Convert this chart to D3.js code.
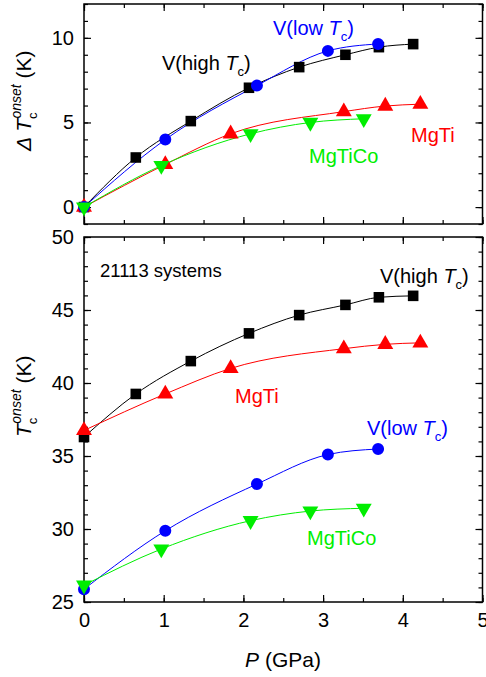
<!DOCTYPE html>
<html>
<head>
<meta charset="utf-8">
<script src="https://cdn.jsdelivr.net/npm/d3@7"></script>
<style>
  body { margin: 0; background: #fff; }
  svg { font-family: "Liberation Sans", Arial, sans-serif; }
  .tick line { stroke: #000; stroke-width: 1.2; }
  .tick text { font-size: 20px; fill: #000; }
</style>
</head>
<body>
<script>
// pressure points (GPa) and values
const pHigh = [0, 0.65, 1.34, 2.07, 2.70, 3.28, 3.70, 4.13];
const tcHigh = [36.3, 39.25, 41.5, 43.4, 44.65, 45.35, 45.87, 45.97];
const dHigh = [0, 2.93, 5.08, 7.05, 8.27, 9.0, 9.45, 9.63];

const pLow = [0, 1.02, 2.17, 3.06, 3.69];
const tcLow = [25.88, 29.88, 33.08, 35.1, 35.48];
const dLow = [0, 3.99, 7.18, 9.23, 9.64];

const pMgTi = [0, 1.02, 1.84, 3.26, 3.78, 4.22];
const tcMgTi = [36.75, 39.25, 41.0, 42.35, 42.65, 42.75];
const dMgTi = [0, 2.52, 4.33, 5.64, 5.97, 6.08];

const pMgTiCo = [0, 0.97, 2.09, 2.84, 3.51];
const tcMgTiCo = [26.15, 28.63, 30.57, 31.23, 31.42];
const dMgTiCo = [0, 2.45, 4.33, 5.0, 5.22];

const width = 486, height = 677;
const svg = d3.select("body").append("svg")
  .attr("width", width)
  .attr("height", height);

const x = d3.scaleLinear().domain([0, 5]).range([84, 482.5]);
const yTop = d3.scaleLinear().domain([-1, 12]).range([224, 4]);
const yBot = d3.scaleLinear().domain([25, 50]).range([602, 237]);

const series = [
  {p: pHigh, top: dHigh, bot: tcHigh, color: "#000000", sym: "square"},
  {p: pMgTi, top: dMgTi, bot: tcMgTi, color: "#ff0000", sym: "up"},
  {p: pLow, top: dLow, bot: tcLow, color: "#0000ff", sym: "circle"},
  {p: pMgTiCo, top: dMgTiCo, bot: tcMgTiCo, color: "#00ee00", sym: "down"}
];

function drawPanel(y, key, showX, yMajor) {
  const g = svg.append("g");
  const [y0, y1] = y.domain();
  const minorY = d3.range(Math.ceil(y0), y1 + 0.01, 1);
  const minorX = d3.range(0, 5.01, 0.5);

  // minor ticks on all four sides
  g.append("g").attr("transform", `translate(${x.range()[0]},0)`)
    .call(d3.axisLeft(y).tickValues(minorY).tickSize(-4).tickFormat(""));
  g.append("g").attr("transform", `translate(${x.range()[1]},0)`)
    .call(d3.axisRight(y).tickValues(minorY).tickSize(-4).tickFormat(""));
  g.append("g").attr("transform", `translate(0,${y.range()[0]})`)
    .call(d3.axisBottom(x).tickValues(minorX).tickSize(-4).tickFormat(""));
  g.append("g").attr("transform", `translate(0,${y.range()[1]})`)
    .call(d3.axisTop(x).tickValues(minorX).tickSize(-4).tickFormat(""));

  // major ticks
  g.append("g").attr("transform", `translate(${x.range()[0]},0)`)
    .call(d3.axisLeft(y).tickValues(yMajor).tickSize(-7).tickPadding(10).tickFormat(d3.format("d")));
  g.append("g").attr("transform", `translate(${x.range()[1]},0)`)
    .call(d3.axisRight(y).tickValues(yMajor).tickSize(-7).tickFormat(""));
  g.append("g").attr("transform", `translate(0,${y.range()[0]})`)
    .call(d3.axisBottom(x).ticks(5).tickSize(-7).tickPadding(11)
      .tickFormat(showX ? d3.format("d") : ""));
  g.append("g").attr("transform", `translate(0,${y.range()[1]})`)
    .call(d3.axisTop(x).ticks(5).tickSize(-7).tickFormat(""));

  g.selectAll(".domain").remove();

  g.append("rect")
    .attr("x", x.range()[0]).attr("y", y.range()[1])
    .attr("width", x.range()[1] - x.range()[0])
    .attr("height", y.range()[0] - y.range()[1])
    .attr("fill", "none").attr("stroke", "#000").attr("stroke-width", 1.5);

  const line = d3.line()
    .x(d => x(d[0])).y(d => y(d[1]))
    .curve(d3.curveMonotoneX);

  series.forEach(s => {
    const pts = s.p.map((p, i) => [p, s[key][i]]);
    g.append("path").datum(pts)
      .attr("d", line)
      .attr("fill", "none")
      .attr("stroke", s.color)
      .attr("stroke-width", 1);
  });

  series.forEach(s => {
    const pts = s.p.map((p, i) => [p, s[key][i]]);
    let type = d3.symbolCircle, size = 113, rot = 0;
    if (s.sym === "square") { type = d3.symbolSquare; size = 112; }
    if (s.sym === "up") { type = d3.symbolTriangle; size = 110; }
    if (s.sym === "down") { type = d3.symbolTriangle; size = 110; rot = 180; }
    g.append("g").selectAll("path")
      .data(pts)
      .enter().append("path")
      .attr("d", d3.symbol().type(type).size(size))
      .attr("transform", d => `translate(${x(d[0])},${y(d[1])}) rotate(${rot})`)
      .attr("fill", s.color);
  });
}

drawPanel(yTop, "top", false, [0, 5, 10]);
drawPanel(yBot, "bot", true, [25, 30, 35, 40, 45, 50]);

// label with italic T and subscript c
function tcLabel(px, py, pre, color) {
  const t = svg.append("text")
    .attr("x", px).attr("y", py)
    .attr("fill", color)
    .style("font-size", "20px");
  t.append("tspan").text(pre);
  t.append("tspan").style("font-style", "italic").text("T");
  t.append("tspan").attr("dy", 6).style("font-size", "13px").text("c");
  t.append("tspan").attr("dy", -6).text(")");
}

function plainLabel(px, py, txt, color, size) {
  svg.append("text")
    .attr("x", px).attr("y", py)
    .attr("fill", color)
    .style("font-size", size + "px")
    .text(txt);
}

// top panel annotations
tcLabel(273, 35, "V(low ", "#0000ff");
tcLabel(162, 70, "V(high ", "#000000");
plainLabel(411, 142, "MgTi", "#ff0000", 20);
plainLabel(309, 163, "MgTiCo", "#00ee00", 20);

// bottom panel annotations
plainLabel(100, 277, "21113 systems", "#000000", 18.5);
tcLabel(380, 283, "V(high ", "#000000");
plainLabel(235, 403, "MgTi", "#ff0000", 20);
tcLabel(367, 435, "V(low ", "#0000ff");
plainLabel(307, 545, "MgTiCo", "#00ee00", 20);

// axis titles
function yTitle(cx, cy, delta) {
  const t = svg.append("text")
    .attr("transform", `translate(${cx},${cy}) rotate(-90)`)
    .style("font-size", "21px");
  if (delta) t.append("tspan").style("font-style", "italic").text("\u0394 ");
  t.append("tspan").style("font-style", "italic").text("T");
  t.append("tspan").attr("dy", 6).style("font-size", "13px").text("c");
  t.append("tspan").attr("dx", -6).attr("dy", -16).style("font-size", "14px")
    .style("font-style", "italic").text("onset");
  t.append("tspan").attr("dy", 10).text(" (K)");
}
yTitle(31, 151, true);
yTitle(31, 437, false);

const xt = svg.append("text")
  .attr("x", 283).attr("y", 667)
  .attr("text-anchor", "middle")
  .style("font-size", "21px");
xt.append("tspan").style("font-style", "italic").text("P");
xt.append("tspan").text(" (GPa)");
</script>
</body>
</html>
